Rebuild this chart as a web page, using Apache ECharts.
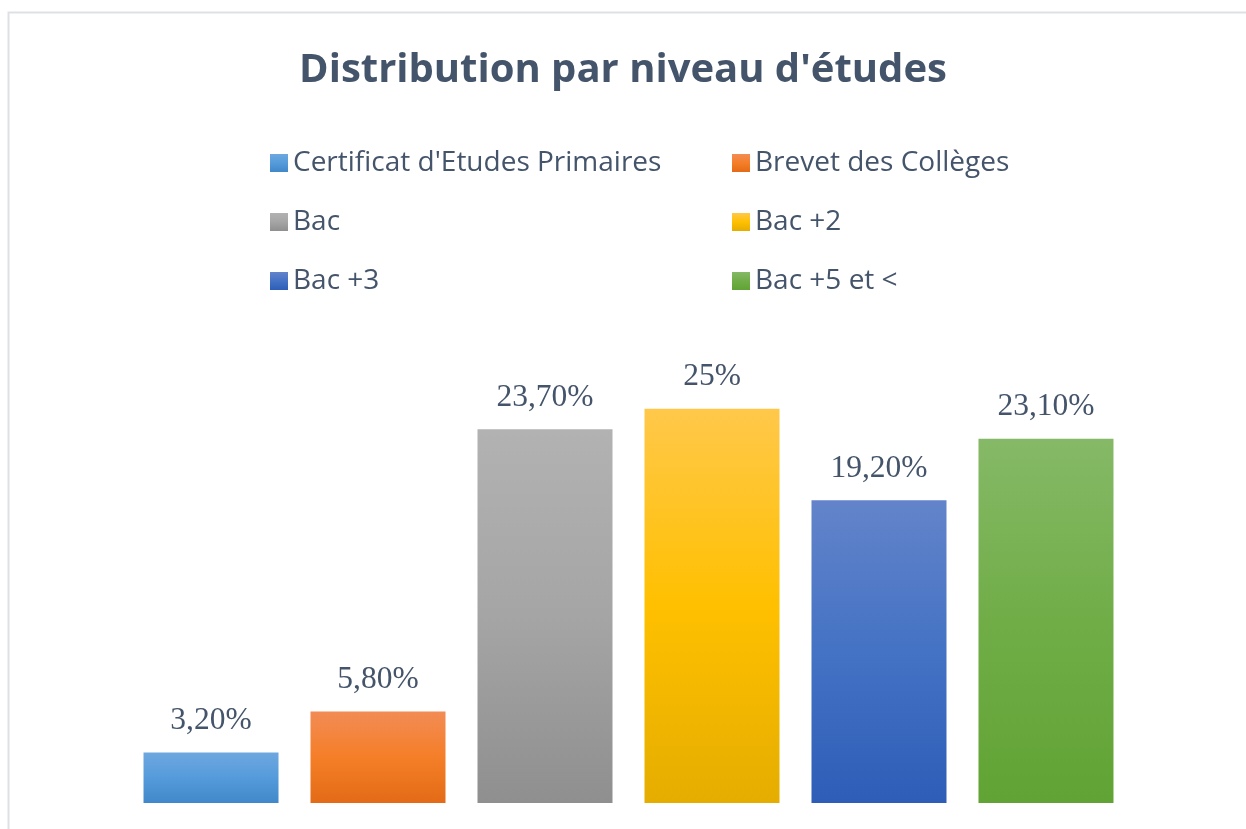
<!DOCTYPE html>
<html>
<head>
<meta charset="utf-8">
<script src="https://cdn.jsdelivr.net/npm/echarts@6/dist/echarts.min.js"></script>
<style>
  html, body { margin: 0; padding: 0; background: #fff; }
  #chart { width: 1246px; height: 829px; }
</style>
</head>
<body>
<div id="chart"></div>
<script>
// données
var niveaux = ["Certificat d'Etudes Primaires", 'Brevet des Collèges', 'Bac', 'Bac +2', 'Bac +3', 'Bac +5 et <'];
var valeurs = [3.2, 5.8, 23.7, 25, 19.2, 23.1];
var etiquettes = ['3,20%', '5,80%', '23,70%', '25%', '19,20%', '23,10%'];

(function () {
  var myChart = echarts.init(document.getElementById('chart'));
  // couleurs en dégradé (haut, milieu, bas)
  var degrades = [
    ['#6ea7df', '#559bdb', '#4088c9'],
    ['#f28c55', '#f57e28', '#e36b17'],
    ['#b2b2b2', '#a5a5a5', '#8f8f8f'],
    ['#ffc84a', '#ffc000', '#e5ad00'],
    ['#6384ca', '#4472c4', '#2e5db8'],
    ['#86b967', '#70ad47', '#61a334']
  ];
  var textColor = '#44546a';

  var series = niveaux.map(function (nom, i) {
    return {
      name: nom,
      type: 'bar',
      data: [valeurs[i]],
      barWidth: 135,
      barGap: '23.7%',
      itemStyle: {
        color: new echarts.graphic.LinearGradient(0, 0, 0, 1, [
          { offset: 0, color: degrades[i][0] },
          { offset: 0.5, color: degrades[i][1] },
          { offset: 1, color: degrades[i][2] }
        ])
      },
      label: {
        show: true,
        position: 'top',
        distance: 16,
        formatter: etiquettes[i],
        color: textColor,
        fontFamily: 'Liberation Serif',
        fontSize: 31.5
      }
    };
  });

  var legendStyle = {
    orient: 'vertical',
    icon: 'rect',
    itemWidth: 18,
    itemHeight: 18,
    itemGap: 31,
    top: 149,
    padding: 0,
    selectedMode: false,
    textStyle: { color: textColor, fontFamily: 'Open Sans', fontSize: 28 }
  };

  var option = {
    animation: false,
    backgroundColor: '#fff',
    title: {
      text: "Distribution par niveau d'études",
      left: 'center',
      top: 46,
      textStyle: { color: textColor, fontFamily: 'Open Sans', fontWeight: 'bold', fontSize: 40 }
    },
    legend: [
      Object.assign({}, legendStyle, { left: 270, data: [niveaux[0], niveaux[2], niveaux[4]] }),
      Object.assign({}, legendStyle, { left: 732, data: [niveaux[1], niveaux[3], niveaux[5]] })
    ],
    graphic: [{
      type: 'rect',
      silent: true,
      shape: { x: 8.5, y: 12.5, width: 1300, height: 900 },
      style: { fill: 'none', stroke: '#dde1e6', lineWidth: 2 }
    }],
    grid: { left: 60, width: 1137, bottom: 26, top: 330 },
    xAxis: { type: 'category', data: [''], show: false },
    yAxis: { type: 'value', min: 0, max: 30, show: false },
    series: series
  };
  myChart.setOption(option);
})();
</script>
</body>
</html>
